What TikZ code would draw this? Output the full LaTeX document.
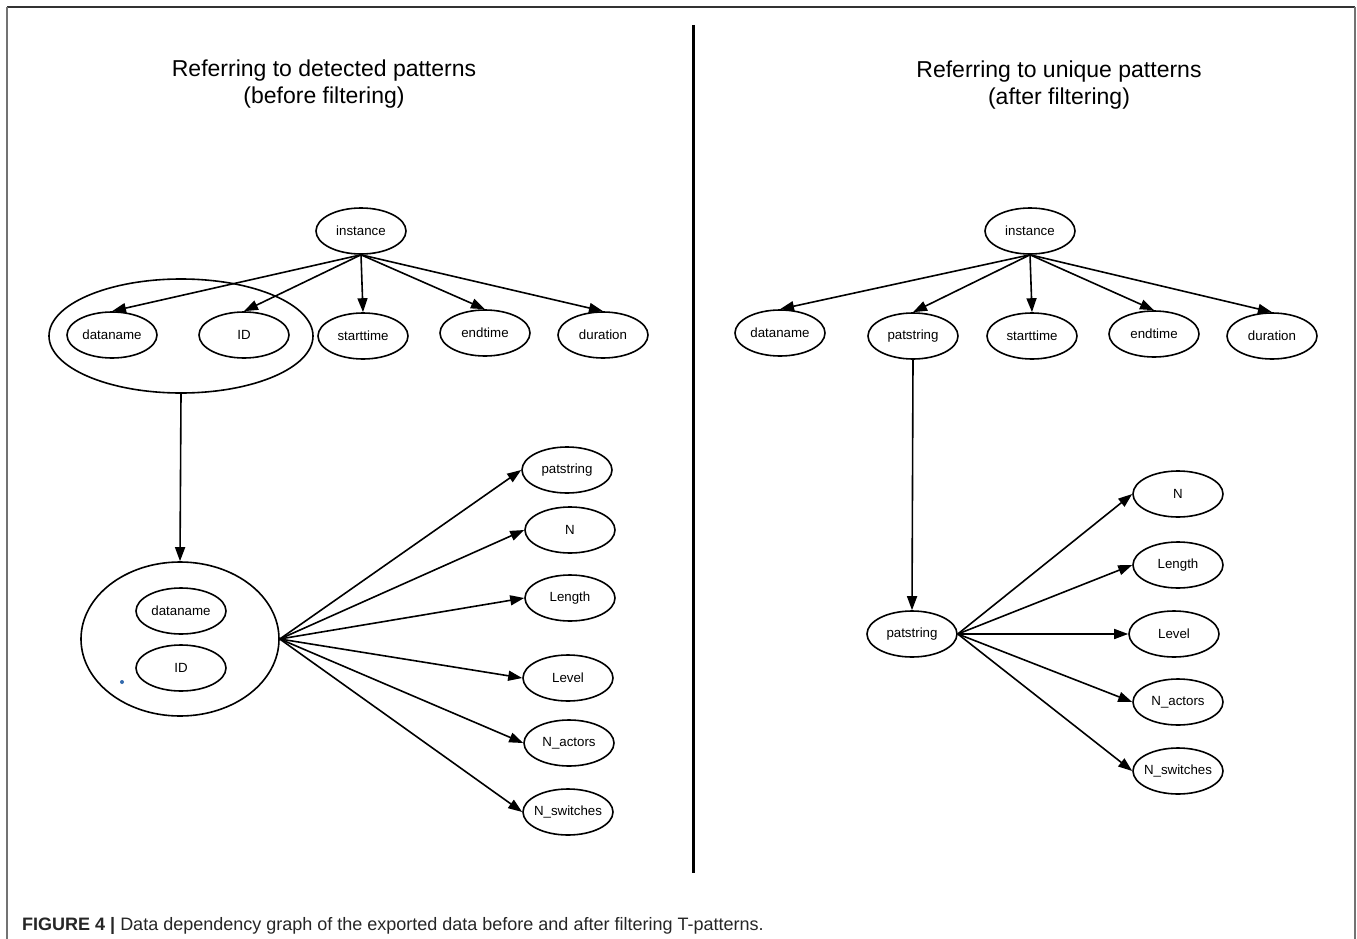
\documentclass[tikz,border=0pt]{standalone}
\usepackage{fontspec}
\setmainfont{Liberation Sans}
\usetikzlibrary{shapes.geometric,arrows.meta}
\newcommand\ellabel[1]{\makebox[0pt]{#1}}
\begin{document}
\begin{tikzpicture}[x=1pt,y=-1pt,
  ell/.style={draw,ellipse,line width=1.6pt,inner sep=0pt,
    minimum width=90pt,minimum height=46pt,
    font=\fontsize{13.3}{16}\selectfont},
  grp/.style={draw,ellipse,line width=1.6pt,inner sep=0pt},
  dep/.style={-{Triangle[length=14pt,width=10pt]},line width=1.6pt},
  ttl/.style={font=\fontsize{23}{27}\selectfont,align=center}]

% canvas and frame
\useasboundingbox (0,0) rectangle (1357,939);
\fill[white] (0,0) rectangle (1357,939);
\draw[line width=2pt,black!80] (7,7) -- (1355,7);
\draw[line width=2pt,black!55] (7,7) -- (7,939);
\draw[line width=2pt,black!55] (1355,7) -- (1355,939);

% panel divider
\draw[line width=3pt] (693,25) -- (693,873);

% ---------------- left panel ----------------
\node[ttl] (title1) at (324,84) {Referring to detected patterns\\(before filtering)};

\node[ell] (inst1) at (361,231) {\ellabel{instance}};
\node[grp,minimum width=264pt,minimum height=114pt] (cl1) at (181,336) {};
\node[ell] (dn1) at (112,335) {\ellabel{dataname}};
\node[ell] (id1) at (244,335) {\ellabel{ID}};
\node[ell] (st1) at (363,336) {\ellabel{starttime}};
\node[ell] (et1) at (485,333) {\ellabel{endtime}};
\node[ell] (du1) at (603,335) {\ellabel{duration}};

\node[grp,minimum width=198pt,minimum height=154pt] (cl2) at (180,639) {};
\node[ell] (dn2) at (181,611) {\ellabel{dataname}};
\node[ell] (id2) at (181,668) {\ellabel{ID}};
\fill[blue!55!cyan!60!black!80] (122,682) circle (2pt);

\node[ell] (ps1) at (567,470) {\ellabel{patstring}};
\node[ell] (n1)  at (570,530) {\ellabel{N}};
\node[ell] (le1) at (570,598) {\ellabel{Length}};
\node[ell] (lv1) at (568,678) {\ellabel{Level}};
\node[ell] (na1) at (569,743) {\ellabel{N\_actors}};
\node[ell] (ns1) at (568,812) {\ellabel{N\_switches}};

\foreach \t in {dn1,id1,st1,et1,du1}
  \draw[dep] (inst1.south) -- (\t.north);
\draw[dep] (cl1.south) -- (cl2.north);
\foreach \t in {ps1,n1,le1,lv1,na1,ns1}
  \draw[dep] (cl2.east) -- (\t.west);

% ---------------- right panel ----------------
\node[ttl] (title2) at (1059,85) {Referring to unique patterns\\(after filtering)};

\node[ell] (inst2) at (1030,231) {\ellabel{instance}};
\node[ell] (dn3) at (780,333) {\ellabel{dataname}};
\node[ell] (ps2) at (913,336) {\ellabel{patstring}};
\node[ell] (st2) at (1032,336) {\ellabel{starttime}};
\node[ell] (et2) at (1154,334) {\ellabel{endtime}};
\node[ell] (du2) at (1272,336) {\ellabel{duration}};

\node[ell] (ps3) at (912,634) {\ellabel{patstring}};
\node[ell] (n2)  at (1178,494) {\ellabel{N}};
\node[ell] (le2) at (1178,565) {\ellabel{Length}};
\node[ell] (lv2) at (1174,634) {\ellabel{Level}};
\node[ell] (na2) at (1178,702) {\ellabel{N\_actors}};
\node[ell] (ns2) at (1178,771) {\ellabel{N\_switches}};

\foreach \t in {dn3,ps2,st2,et2,du2}
  \draw[dep] (inst2.south) -- (\t.north);
\draw[dep] (ps2.south) -- (ps3.north);
\foreach \t in {n2,le2,lv2,na2,ns2}
  \draw[dep] (ps3.east) -- (\t.west);

% caption
\node[anchor=base west,inner sep=0pt,text=black!85,font=\fontsize{18}{21}\selectfont]
  (caption) at (22,930) {\textbf{FIGURE 4 |} Data dependency graph of the exported data before and after filtering T-patterns.};
\end{tikzpicture}
\end{document}
